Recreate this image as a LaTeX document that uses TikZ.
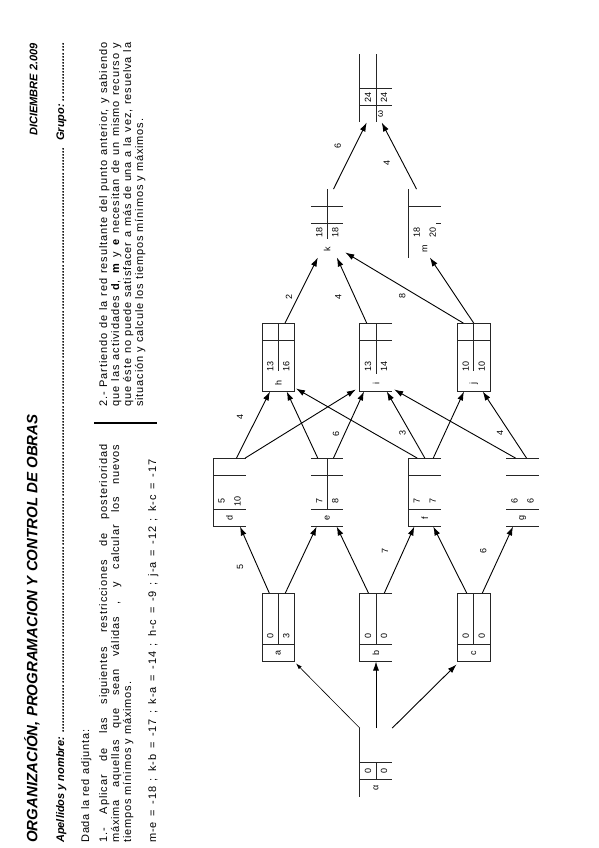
\documentclass[tikz,border=0pt]{standalone}
\usepackage{fontspec}
\setmainfont{Liberation Sans}
\newfontfamily\texto[LetterSpace=8]{Liberation Sans}
\usetikzlibrary{arrows.meta}
\tikzset{
  caja/.style={
    rectangle,
    minimum width=32pt,
    minimum height=68pt,
    inner sep=0pt,
  },
  marco/.style={line width=0.8pt, black!85},
  flecha/.style={->, >={Latex[length=9pt,width=6pt]}, line width=0.9pt},
  flechita/.style={->, >={Latex[length=6pt,width=4pt]}, line width=0.6pt},
  num/.style={rotate=90, inner sep=0pt, font=\fontsize{9}{10}\selectfont},
  etiq/.style={rotate=90, inner sep=0pt, font=\fontsize{9}{10}\selectfont},
  linea/.style={rotate=90, anchor=base west, inner sep=0pt,
    font=\texto\fontsize{11}{13}\selectfont},
  cabecera/.style={rotate=90, anchor=base west, inner sep=0pt,
    font=\fontsize{11}{13}\selectfont\bfseries\itshape},
}
% caja: nombre, x, y, actividad, tiempo minimo, tiempo maximo
\newcommand{\caja}[6]{%
  \node[caja] (#1) at (#2,#3) {};
  \node[num] (#1-ti) at ([xshift=-8pt,yshift=25.5pt]#1.south) {#5};
  \node[num] (#1-tf) at ([xshift=8pt,yshift=25.5pt]#1.south) {#6};
  \node[num] (#1-n) at ([yshift=8.5pt]#1.south) {#4};
}
\newcommand{\fila}[2]{\draw[marco] ([yshift=-#2pt]#1.north west) -- ([yshift=-#2pt]#1.north east);}
\newcommand{\puntos}{\xleaders\hbox{.}\hfill}

\begin{document}
\begin{tikzpicture}[x=1pt,y=-1pt]
  \useasboundingbox (0,0) rectangle (599,848);

  % cabecera
  \node[cabecera, font=\fontsize{15}{18}\selectfont\bfseries\itshape] (titulo) at (37.3,843)
    {ORGANIZACIÓN, PROGRAMACION Y CONTROL DE OBRAS};
  \node[cabecera, anchor=base east] (fecha) at (37.3,43) {DICIEMBRE 2.009};
  \node[cabecera] (nombre) at (64,843) {\makebox[695pt][l]{Apellidos y nombre: \puntos}};
  \node[cabecera] (grupo) at (64,141) {\makebox[98pt][l]{Grupo:\ \puntos}};

  % enunciado 1
  \node[linea] (dada) at (89,843) {Dada la red adjunta:};
  \node[linea] (p1a) at (107,843)
    {\makebox[398pt][s]{1.- Aplicar de las siguientes restricciones de posterioridad}};
  \node[linea] (p1b) at (119,843)
    {\makebox[398pt][s]{máxima aquellas que sean válidas , y calcular los nuevos}};
  \node[linea] (p1c) at (131,843) {tiempos mínimos y máximos.};
  \node[linea] (datos) at (156,843)
    {\makebox[383pt][s]{m-e = -18 ; k-b = -17 ; k-a = -14 ; h-c = -9 ; j-a = -12 ; k-c = -17}};

  \draw[line width=1.6pt] (94,423) -- (157,423);

  % enunciado 2
  \node[linea] (p2a) at (107,407)
    {\makebox[364pt][s]{2.- Partiendo de la red resultante del punto anterior, y sabiendo}};
  \node[linea] (p2b) at (119,407)
    {\makebox[364pt][s]{que las actividades \textbf{d}, \textbf{m} y \textbf{e} necesitan de un mismo recurso y}};
  \node[linea] (p2c) at (131,407)
    {\makebox[364pt][s]{que éste no puede satisfacer a más de una a la vez, resuelva la}};
  \node[linea] (p2d) at (143,407) {situación y calcule los tiempos mínimos y máximos.};

  % nudos de la red
  \caja{alpha}{376}{762.3}{α}{0}{0}
  \caja{a}{278.3}{627.3}{a}{0}{3}
  \caja{b}{376}{627.3}{b}{0}{0}
  \caja{c}{473.7}{627.3}{c}{0}{0}
  \caja{d}{229.45}{492.3}{d}{5}{10}
  \caja{e}{327.15}{492.3}{e}{7}{8}
  \caja{f}{424.85}{492.3}{f}{7}{7}
  \caja{g}{522.55}{492.3}{g}{6}{6}
  \caja{h}{278.3}{357.3}{h}{13}{16}
  \caja{i}{376}{357.3}{i}{13}{14}
  \caja{j}{473.7}{357.3}{j}{10}{10}
  \caja{k}{327.15}{223.3}{k}{18}{18}
  \caja{m}{424.85}{223.3}{m}{18}{20}
  \caja{omega}{376}{88.3}{\hspace*{8pt}}{24}{24}
  \node[num] (omega-w) at ([xshift=4.5pt,yshift=8.5pt]omega.south) {ω};

  % trazos de las cajas
  \draw[marco] (alpha.north west) -- (alpha.south west);
  \fila{alpha}{34} \fila{alpha}{51}
  \draw[marco] ([yshift=-34pt]alpha.north) -- ([yshift=-51pt]alpha.north);

  \draw[marco] (a.north west) rectangle (a.south east);
  \fila{a}{51}
  \draw[marco] (a.north) -- ([yshift=-51pt]a.north);
  \draw[marco] (b.north east) -- (b.north west) -- (b.south west) -- (b.south east);
  \fila{b}{51}
  \draw[marco] (b.north) -- ([yshift=-51pt]b.north);
  \draw[marco] (c.north west) rectangle (c.south east);
  \fila{c}{51}
  \draw[marco] (c.north) -- ([yshift=-51pt]c.north);

  \draw[marco] (d.north east) -- (d.north west) -- (d.south west) -- (d.south east);
  \fila{d}{17} \fila{d}{51}
  \fila{e}{0} \fila{e}{17} \fila{e}{51} \fila{e}{68}
  \draw[marco] (e.north) -- ([yshift=-51pt]e.north);
  \draw[marco] (f.north east) -- (f.north west) -- (f.south west) -- (f.south east);
  \fila{f}{17} \fila{f}{51}
  \fila{g}{0} \fila{g}{17} \fila{g}{51} \fila{g}{68}

  \draw[marco] (h.north west) rectangle (h.south east);
  \fila{h}{17}
  \draw[marco] (h.north) -- ([yshift=-48pt]h.north);
  \draw[marco] (i.north east) -- (i.north west) -- (i.south west) -- (i.south east);
  \fila{i}{17}
  \draw[marco] (i.north) -- ([yshift=-51pt]i.north);
  \draw[marco] (j.north west) rectangle (j.south east);
  \fila{j}{17}
  \draw[marco] (j.north) -- ([yshift=-48pt]j.north);

  \fila{k}{17} \fila{k}{34}
  \draw[marco] (k.north) -- ([yshift=-50pt]k.north);
  \draw[marco] (m.north west) -- (m.south west);
  \fila{m}{17}
  \draw[marco] ([xshift=-5pt,yshift=-34pt]m.north east) -- ([yshift=-34pt]m.north east);

  \draw[marco] (omega.north west) -- (omega.south west);
  \draw[marco] (omega.north) -- (omega.south);
  \fila{omega}{34} \fila{omega}{51}

  % flechas
  \path (alpha.north west) edge[flechita] ([xshift=1.5pt,yshift=-2pt]a.south east);
  \path (alpha.north) edge[flecha] (b.south);
  \path (alpha.north east) edge[flecha] ([xshift=-1pt,yshift=-3pt]c.south west);

  \path ([xshift=-9pt]a.north) edge[flecha] node[xshift=-17.8pt,pos=.39,etiq]{5} ([xshift=10.5pt]d.south);
  \path ([xshift=7pt]a.north) edge[flecha] ([xshift=-10.5pt]e.south);
  \path ([xshift=-7.5pt]b.north) edge[flecha] ([xshift=9.5pt]e.south);
  \path ([xshift=8.3pt]b.north) edge[flecha] node[xshift=-18.3pt,pos=.63,etiq]{7} ([xshift=-10.5pt]f.south);
  \path ([xshift=-7pt]c.north) edge[flecha] ([xshift=8.4pt]f.south);
  \path ([xshift=8.6pt]c.north) edge[flecha] node[xshift=-18.4pt,pos=.63,etiq]{6} ([xshift=-9.5pt]g.south);

  \path ([xshift=7pt]d.north) edge[flecha] node[xshift=-17.3pt,pos=.62,etiq]{4} ([xshift=-8.3pt]h.south);
  \path ([xshift=-0.5pt]d.north east) edge[flecha] ([xshift=-4pt,yshift=2pt]i.south west);
  \path ([xshift=-9.4pt]e.north) edge[flecha] ([xshift=8.4pt]h.south);
  \path ([xshift=6.3pt]e.north) edge[flecha] node[xshift=-8.5pt,pos=.36,etiq]{6} ([xshift=-12pt]i.south);
  \path ([xshift=-7.6pt]f.north) edge[flecha] ([xshift=1.5pt,yshift=3pt]h.south east);
  \path (f.north) edge[flecha] node[xshift=-8.3pt,pos=.37,etiq]{3} ([xshift=10.7pt]i.south);
  \path ([xshift=8.4pt]f.north) edge[flecha] ([xshift=-9.7pt]j.south);
  \path ([xshift=-7pt]g.north) edge[flecha] ([xshift=2pt,yshift=2pt]i.south east);
  \path ([xshift=4pt]g.north) edge[flecha] node[xshift=-10.2pt,pos=.37,etiq]{4} ([xshift=9pt]j.south);

  \path ([xshift=6.7pt]h.north) edge[flecha] node[xshift=-9.2pt,pos=.40,etiq]{2} ([xshift=-9.3pt]k.south);
  \path ([xshift=-9.3pt]i.north) edge[flecha] node[xshift=-16.4pt,pos=.40,etiq]{4} ([xshift=9.7pt]k.south);
  \path ([xshift=-10.4pt]j.north) edge[flecha] node[xshift=-15.5pt,pos=.385,etiq]{8} ([xshift=2pt,yshift=5pt]k.south east);
  \path (j.north) edge[flecha] ([xshift=5pt]m.south);

  \path ([xshift=6.3pt]k.north) edge[flecha] node[xshift=-16.9pt,pos=.64,etiq]{6} ([xshift=-9.3pt]omega.south);
  \path ([xshift=-8.3pt]m.north) edge[flecha] node[xshift=-16.3pt,pos=.39,etiq]{4} ([xshift=5.7pt]omega.south);
\end{tikzpicture}
\end{document}
